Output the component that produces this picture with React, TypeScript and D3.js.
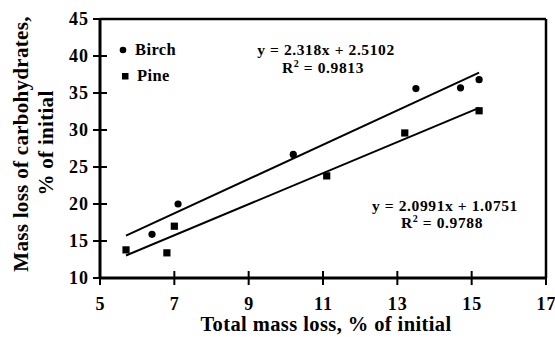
import React from "react";
import * as d3 from "d3";

const birchX = [6.4, 7.1, 10.2, 13.5, 14.7, 15.2];
const birchY = [15.9, 20.0, 26.7, 35.6, 35.7, 36.8];
const pineX = [5.7, 6.8, 7.0, 11.1, 13.2, 15.2];
const pineY = [13.8, 13.4, 17.0, 23.8, 29.6, 32.6];
const fitRange = [5.7, 15.2];
const birchFit = { slope: 2.318, intercept: 2.5102, r2: "0.9813" };
const pineFit = { slope: 2.0991, intercept: 1.0751, r2: "0.9788" };
const xTicks = [5, 7, 9, 11, 13, 15, 17];
const yTicks = [10, 15, 20, 25, 30, 35, 40, 45];

const W = 555;
const H = 337;
const font = "'Liberation Serif', 'Times New Roman', serif";

export default function App() {
  const x = d3.scaleLinear().domain([5, 17]).range([100, 546]);
  const y = d3.scaleLinear().domain([10, 45]).range([278, 19]);
  const line = d3
    .line<number[]>()
    .x((d) => x(d[0]))
    .y((d) => y(d[1]));

  const fitPts = (f: { slope: number; intercept: number }) =>
    fitRange.map((v) => [v, f.slope * v + f.intercept]);

  return (
    <svg
      width={W}
      height={H}
      style={{ position: "absolute", left: 0, top: 0, background: "#fff" }}
      fontFamily={font}
      fontWeight="bold"
    >
      {/* frame */}
      <line x1={x(5)} x2={x(17)} y1={y(45)} y2={y(45)} stroke="#000" strokeWidth={2.5} />
      <line x1={x(17)} x2={x(17)} y1={y(45)} y2={y(10)} stroke="#000" strokeWidth={2.5} />
      <line x1={x(5)} x2={x(17)} y1={y(10)} y2={y(10)} stroke="#000" strokeWidth={3} />
      <line x1={x(5)} x2={x(5)} y1={y(45) - 1} y2={y(10) + 1} stroke="#000" strokeWidth={3} />

      {/* y ticks */}
      {yTicks.map((t) => (
        <g key={"y" + t}>
          <line x1={x(5) - 7} x2={x(5) + 7} y1={y(t)} y2={y(t)} stroke="#000" strokeWidth={2} />
          <text x={89} y={y(t)} dy="0.35em" textAnchor="end" fontSize={18} letterSpacing={1}>
            {t}
          </text>
        </g>
      ))}
      {/* x ticks */}
      {xTicks.map((t) => (
        <g key={"x" + t}>
          <line x1={x(t)} x2={x(t)} y1={y(10) - 7} y2={y(10) + 7} stroke="#000" strokeWidth={2} />
          <text x={x(t) + 0.5} y={310} textAnchor="middle" fontSize={18} letterSpacing={1}>
            {t}
          </text>
        </g>
      ))}

      {/* axis titles */}
      <text x={326} y={331} textAnchor="middle" fontSize={20.5} letterSpacing={0.4}>
        Total mass loss, % of initial
      </text>
      <text transform={`translate(28,144) rotate(-90)`} textAnchor="middle" fontSize={21} letterSpacing={0.3}>
        Mass loss of carbohydrates,
      </text>
      <text transform={`translate(53,143) rotate(-90)`} textAnchor="middle" fontSize={21} letterSpacing={0.3}>
        % of initial
      </text>

      {/* trendlines */}
      <path d={line(fitPts(birchFit)) || ""} fill="none" stroke="#000" strokeWidth={2} />
      <path d={line(fitPts(pineFit)) || ""} fill="none" stroke="#000" strokeWidth={2} />

      {/* points */}
      {birchX.map((v, i) => (
        <circle key={"b" + i} cx={x(v)} cy={y(birchY[i])} r={3.6} fill="#000" />
      ))}
      {pineX.map((v, i) => (
        <rect key={"p" + i} x={x(v) - 3.6} y={y(pineY[i]) - 3.6} width={7.2} height={7.2} fill="#000" />
      ))}

      {/* legend */}
      <circle cx={123} cy={50} r={3.3} fill="#000" />
      <text x={135} y={55} fontSize={16.5} letterSpacing={0.4}>
        Birch
      </text>
      <rect x={122} y={73} width={6.5} height={6.5} fill="#000" />
      <text x={137} y={81} fontSize={16.5} letterSpacing={0.4}>
        Pine
      </text>

      {/* equations */}
      <text x={326} y={55} textAnchor="middle" fontSize={15.5} letterSpacing={0.6}>
        {`y = ${birchFit.slope}x + ${birchFit.intercept}`}
      </text>
      <text x={323} y={73} textAnchor="middle" fontSize={15.5} letterSpacing={0.6}>
        R<tspan dy={-6} fontSize={10}>2</tspan>
        <tspan dy={6}>{` = ${birchFit.r2}`}</tspan>
      </text>
      <text x={445} y={211} textAnchor="middle" fontSize={15.5} letterSpacing={0.6}>
        {`y = ${pineFit.slope}x + ${pineFit.intercept}`}
      </text>
      <text x={442} y={228} textAnchor="middle" fontSize={15.5} letterSpacing={0.6}>
        R<tspan dy={-6} fontSize={10}>2</tspan>
        <tspan dy={6}>{` = ${pineFit.r2}`}</tspan>
      </text>
    </svg>
  );
}
